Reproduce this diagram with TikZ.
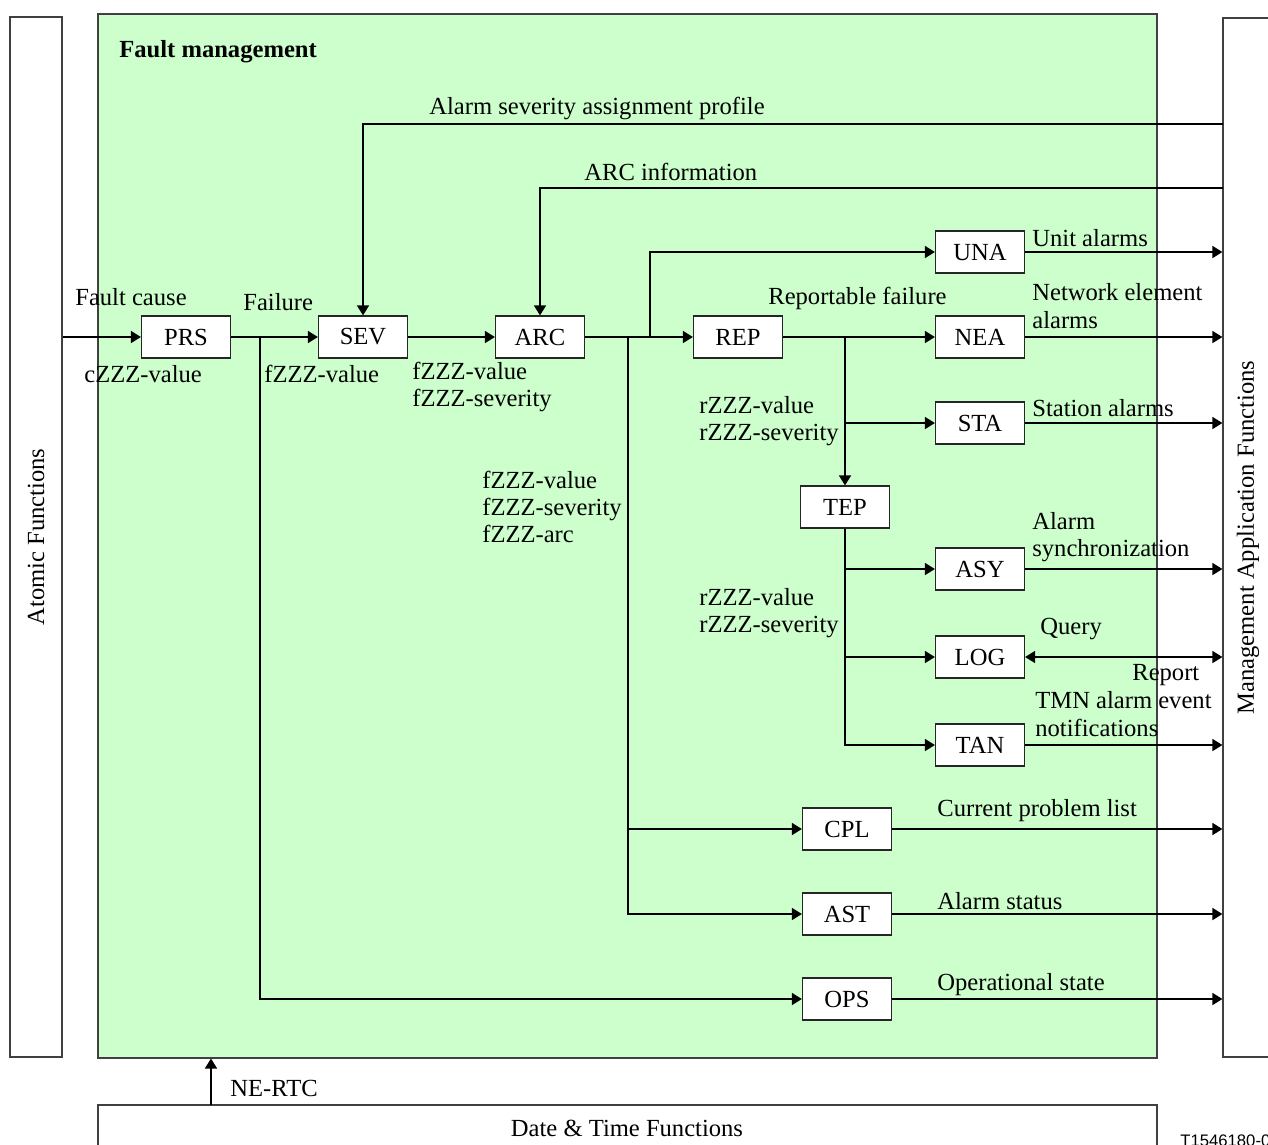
\documentclass[tikz,border=0pt]{standalone}
\usepackage{fontspec}
\setmainfont{Liberation Serif}
\newfontfamily\tagfont{Liberation Sans}
\usetikzlibrary{arrows.meta,positioning}

\begin{document}
\begin{tikzpicture}[x=0.02cm,y=-0.02cm,
	font=\fontsize{14}{15.5}\selectfont,
	fblock/.style={draw=black!85,line width=0.7pt,fill=white,minimum width=1.78cm,minimum height=0.84cm,inner sep=0pt},
	frame/.style={draw=black!75,line width=0.7pt,inner sep=0pt},
	sig/.style={line width=0.9pt,-{Triangle[length=0.2cm,width=0.24cm]}},
	both/.style={line width=0.9pt,{Triangle[length=0.2cm,width=0.24cm]}-{Triangle[length=0.2cm,width=0.24cm]}},
	txt/.style={inner sep=0pt,anchor=west,align=left}]
	\definecolor{fmgreen}{RGB}{204,255,204}
	\useasboundingbox (0,0) rectangle (1268,1144);
	%% Frames ------
	\node[frame,minimum width=1.04cm,minimum height=20.8cm] (atomic) at (36,537) {};
	\node[rotate=90] at (atomic) {Atomic Functions};
	\node[frame,fill=fmgreen,minimum width=21.18cm,minimum height=20.88cm] (fm) at (627.5,536) {};
	\node[txt,font=\fontsize{14}{15.5}\selectfont\bfseries] at (119,52) {Fault management};
	\node[frame,minimum width=1.0cm,minimum height=20.78cm] (maf) at (1248,537.5) {};
	\node[rotate=90] at (maf) {Management Application Functions};
	\node[frame,minimum width=21.18cm,minimum height=1.5cm] (dtf) at (627.5,1142.5) {};
	\node at (627,1128) {Date \& Time Functions};
	\node[inner sep=0pt,anchor=north west,font=\tagfont\fontsize{9.5}{10}\selectfont] at (1180,1134) {T1546180-02};
	%% Blocks ------
	\node[fblock] (prs) at (186,337) {PRS};
	\node[fblock] (sev) at (363,337) {SEV};
	\node[fblock] (arc) at (540,337) {ARC};
	\node[fblock] (rep) at (738,337) {REP};
	\node[fblock] (una) at (980,252) {UNA};
	\node[fblock] (nea) at (980,337) {NEA};
	\node[fblock] (sta) at (980,423) {STA};
	\node[fblock] (tep) at (845,507) {TEP};
	\node[fblock] (asy) at (980,569) {ASY};
	\node[fblock] (log) at (980,657) {LOG};
	\node[fblock] (tan) at (980,745) {TAN};
	\node[fblock] (cpl) at (847,829) {CPL};
	\node[fblock] (ast) at (847,914) {AST};
	\node[fblock] (ops) at (847,999) {OPS};
	%% Branch points ------
	\coordinate (fsplit) at (260,337);
	\coordinate (cplsplit) at (628,337);
	\coordinate (unasplit) at (650,337);
	\coordinate (repsplit) at (845,337);
	\coordinate (asapin) at (1223,124);
	\coordinate (arcin) at (1223,188);
	\coordinate (rtc) at (211,1105);
	%% Connectors ------
	\draw[sig] (atomic.east |- prs) -- (prs);
	\draw[sig] (prs) -- (sev);
	\draw[sig] (sev) -- (arc);
	\draw[sig] (arc) -- (rep);
	\draw[sig] (rep) -- (nea);
	\draw[sig] (fsplit) |- (ops);
	\draw[sig] (asapin) -| (sev);
	\draw[sig] (arcin) -| (arc);
	\draw[sig] (unasplit) |- (una);
	\draw[sig] (cplsplit) |- (cpl);
	\draw[sig] (cplsplit) |- (ast);
	\draw[sig] (repsplit) -- (tep);
	\draw[sig] (repsplit) |- (sta);
	\draw[sig] (tep.south) |- (asy);
	\draw[sig] (tep.south) |- (log);
	\draw[sig] (tep.south) |- (tan);
	\draw[sig] (una) -- (una -| maf.west);
	\draw[sig] (nea) -- (nea -| maf.west);
	\draw[sig] (sta) -- (sta -| maf.west);
	\draw[sig] (asy) -- (asy -| maf.west);
	\draw[both] (log) -- (log -| maf.west);
	\draw[sig] (tan) -- (tan -| maf.west);
	\draw[sig] (cpl) -- (cpl -| maf.west);
	\draw[sig] (ast) -- (ast -| maf.west);
	\draw[sig] (ops) -- (ops -| maf.west);
	\draw[sig] (rtc) -- (rtc |- fm.south);
	%% Labels ------
	\node at (597,108) {Alarm severity assignment profile};
	\node[txt] at (584,172) {ARC information};
	\node[txt] at (75,297) {Fault cause};
	\node[txt] at (84,374) {cZZZ-value};
	\node[txt] at (243,302) {Failure};
	\node[txt] at (264,374) {fZZZ-value};
	\node[txt] at (412,387) {fZZZ-value\\fZZZ-severity};
	\node[txt] at (482,507) {fZZZ-value\\fZZZ-severity\\fZZZ-arc};
	\node[txt] at (768,298) {Reportable failure};
	\node[txt] at (699,421) {rZZZ-value\\rZZZ-severity};
	\node[txt] at (699,613) {rZZZ-value\\rZZZ-severity};
	\node[txt] at (1032,238) {Unit alarms};
	\node[txt] at (1032,306) {Network element\\alarms};
	\node[txt] at (1032,408) {Station alarms};
	\node[txt] at (1032,537) {Alarm\\synchronization};
	\node[txt] at (1040,629) {Query};
	\node[txt] at (1132,675) {Report};
	\node[txt] at (1035,714) {TMN alarm event\\notifications};
	\node[txt] at (937,811) {Current problem list};
	\node[txt] at (937,901) {Alarm status};
	\node[txt] at (937,985) {Operational state};
	\node[txt] at (230,1088) {NE-RTC};
\end{tikzpicture}
\end{document}
